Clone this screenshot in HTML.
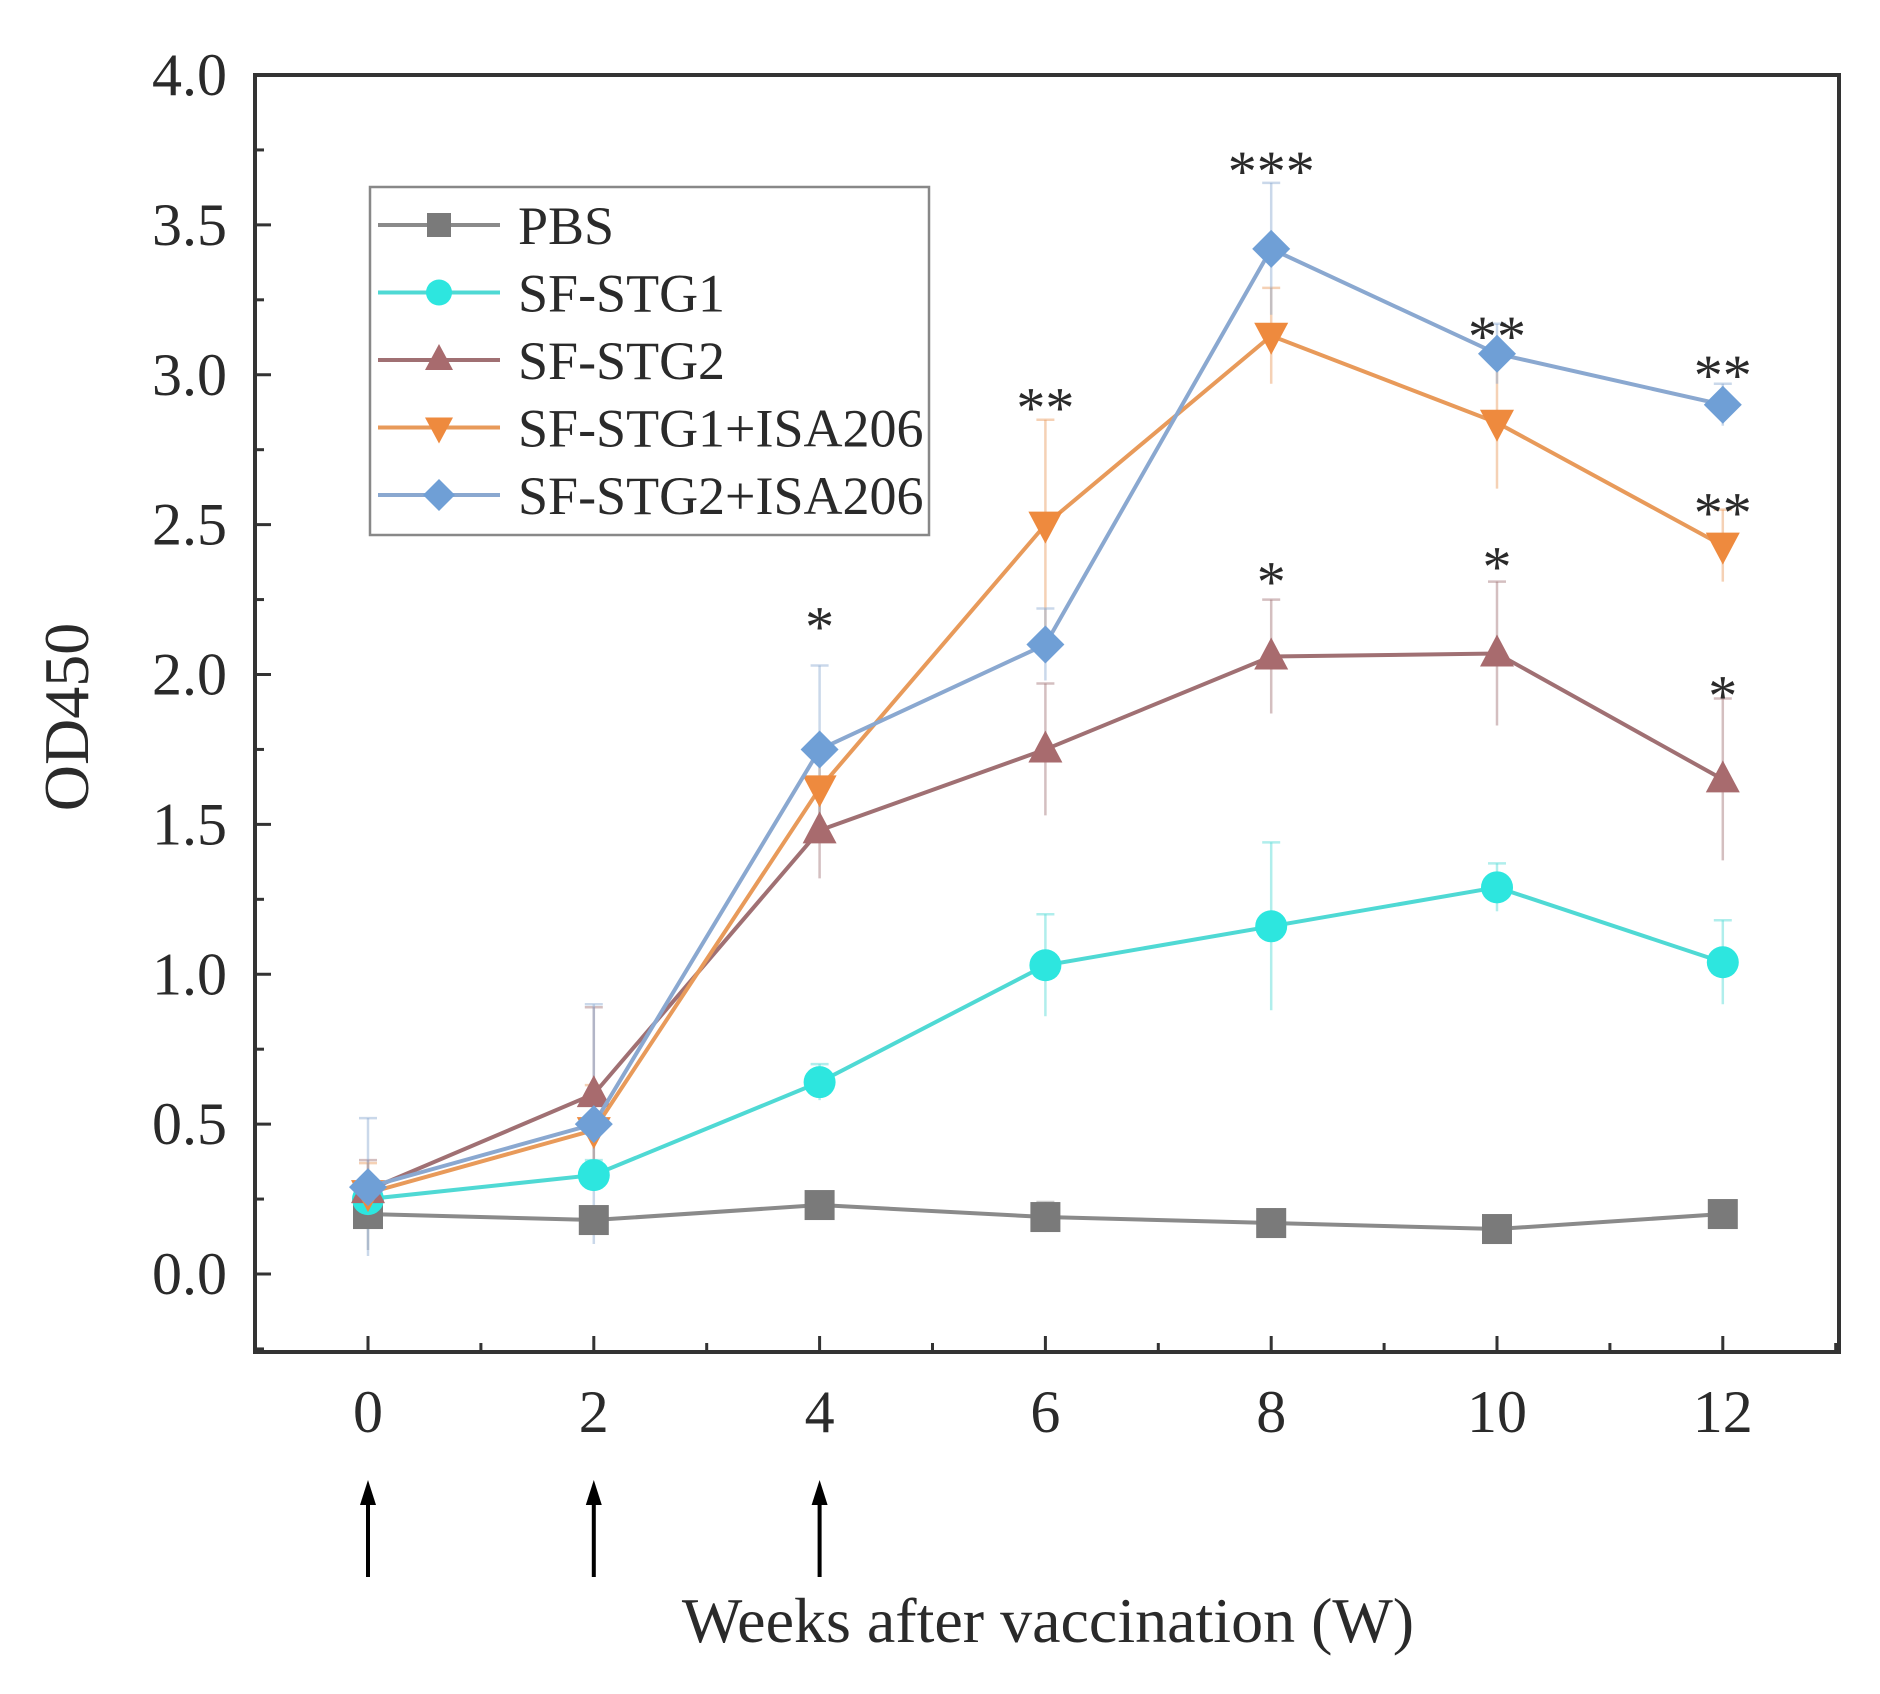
<!DOCTYPE html>
<html><head><meta charset="utf-8"><style>
html,body{margin:0;padding:0;background:#fff;}
svg{display:block;}
text{font-family:"Liberation Serif",serif;fill:#2a2a2a;}
</style></head><body>
<svg id="s" width="1880" height="1694" viewBox="0 0 1880 1694" xmlns="http://www.w3.org/2000/svg"></svg>
<script>
const s=document.getElementById('s');
const L=255,R=1839,T=75,B=1352;
const X=w=>368+w*112.9, Y=v=>1274-v*299.75;
let h='';
h+=`<rect x="${L}" y="${T}" width="${R-L}" height="${B-T}" fill="none" stroke="#333" stroke-width="4"/>`;
for(let i=0;i<=8;i++){const v=i*0.5,y=Y(v);
 h+=`<line x1="${L}" y1="${y}" x2="${L+16}" y2="${y}" stroke="#333" stroke-width="3"/>`;
 h+=`<text x="${L-28}" y="${y+20}" font-size="60" text-anchor="end">${v.toFixed(1)}</text>`;
 if(i<8){const ym=Y(v+0.25);h+=`<line x1="${L}" y1="${ym}" x2="${L+9}" y2="${ym}" stroke="#333" stroke-width="3"/>`;}
}
{const ym=Y(-0.25);h+=`<line x1="${L}" y1="${ym}" x2="${L+9}" y2="${ym}" stroke="#333" stroke-width="3"/>`;}
for(let w=-1;w<=13;w++){const x=X(w);if(x<=L||x>=R)continue;
 const maj=w%2==0&&w>=0&&w<=12;
 h+=`<line x1="${x}" y1="${B}" x2="${x}" y2="${B-(maj?16:9)}" stroke="#333" stroke-width="3"/>`;
 if(maj)h+=`<text x="${x}" y="${B+80}" font-size="60" text-anchor="middle">${w}</text>`;
}
h+=`<text transform="translate(88,717) rotate(-90)" font-size="64" text-anchor="middle">OD450</text>`;
h+=`<text x="1048" y="1642" font-size="64" text-anchor="middle">Weeks after vaccination (W)</text>`;
[0,2,4].forEach(w=>{const x=X(w);
 h+=`<line x1="${x}" y1="1577" x2="${x}" y2="1500" stroke="#000" stroke-width="4"/>`;
 h+=`<polygon points="${x-8},1505 ${x+8},1505 ${x},1480" fill="#000"/>`;});
const ser=[
 {n:'PBS',c:'#7a7a7a',lc:'#8a8a8a',m:'sq',v:[0.2,0.18,0.23,0.19,0.17,0.15,0.2],e:[0.12,0.03,0.03,0.05,0.03,0.03,0.03]},
 {n:'SF-STG1',c:'#2de6df',lc:'#4fd9d4',m:'ci',v:[0.25,0.33,0.64,1.03,1.16,1.29,1.04],e:[0.05,0.05,0.06,0.17,0.28,0.08,0.14]},
 {n:'SF-STG2',c:'#a86b6e',lc:'#a07073',m:'up',v:[0.28,0.6,1.48,1.75,2.06,2.07,1.65],e:[0.1,0.29,0.16,0.22,0.19,0.24,0.27]},
 {n:'SF-STG1+ISA206',c:'#ee8a3e',lc:'#e89a5a',m:'dn',v:[0.27,0.48,1.62,2.5,3.13,2.84,2.43],e:[0.1,0.15,0.15,0.35,0.16,0.22,0.12]},
 {n:'SF-STG2+ISA206',c:'#6f9fd6',lc:'#8aa8d0',m:'di',v:[0.29,0.5,1.75,2.1,3.42,3.07,2.9],e:[0.23,0.4,0.28,0.12,0.22,0.1,0.07]}
];
function mk(m,x,y,c,sz){sz=sz||15;
 if(m=='sq')return `<rect x="${x-sz}" y="${y-sz}" width="${2*sz}" height="${2*sz}" fill="${c}"/>`;
 if(m=='ci')return `<circle cx="${x}" cy="${y}" r="${sz+1}" fill="${c}"/>`;
 if(m=='up')return `<polygon points="${x},${y-sz-4} ${x-sz-2},${y+sz-2} ${x+sz+2},${y+sz-2}" fill="${c}"/>`;
 if(m=='dn')return `<polygon points="${x},${y+sz+4} ${x-sz-2},${y-sz+2} ${x+sz+2},${y-sz+2}" fill="${c}"/>`;
 return `<polygon points="${x},${y-sz-4} ${x+sz+4},${y} ${x},${y+sz+4} ${x-sz-4},${y}" fill="${c}"/>`;}
ser.forEach(sr=>{sr.v.forEach((v,i)=>{const x=X(2*i);
 h+=`<line x1="${x}" y1="${Y(v-sr.e[i])}" x2="${x}" y2="${Y(v+sr.e[i])}" stroke="${sr.lc}" stroke-opacity="0.45" stroke-width="2.5"/>`;
 h+=`<line x1="${x-9}" y1="${Y(v+sr.e[i])}" x2="${x+9}" y2="${Y(v+sr.e[i])}" stroke="${sr.lc}" stroke-opacity="0.45" stroke-width="2.5"/>`;});});
ser.forEach(sr=>{h+=`<polyline fill="none" stroke="${sr.lc}" stroke-width="4" points="${sr.v.map((v,i)=>X(2*i)+','+Y(v)).join(' ')}"/>`;
 sr.v.forEach((v,i)=>h+=mk(sr.m,X(2*i),Y(v),sr.c));});
[[4,'*',2.2],[6,'**',2.93],[8,'***',3.72],[8,'*',2.35],[10,'**',3.17],[10,'*',2.4],[12,'**',3.04],[12,'**',2.58],[12,'*',1.97]].forEach(a=>{
 h+=`<text x="${X(a[0])}" y="${Y(a[2])+32}" font-size="58" text-anchor="middle" fill="#444">${a[1]}</text>`;});
h+=`<rect x="370" y="187" width="559" height="348" fill="#fff" stroke="#888" stroke-width="2.5"/>`;
ser.forEach((sr,i)=>{const y=225+i*67.5;
 h+=`<line x1="378" y1="${y}" x2="500" y2="${y}" stroke="${sr.lc}" stroke-width="4"/>`;
 h+=mk(sr.m,439,y,sr.c,12);
 h+=`<text x="518" y="${y+19}" font-size="54">${sr.n}</text>`;});
s.innerHTML=h;
</script>
</body></html>
